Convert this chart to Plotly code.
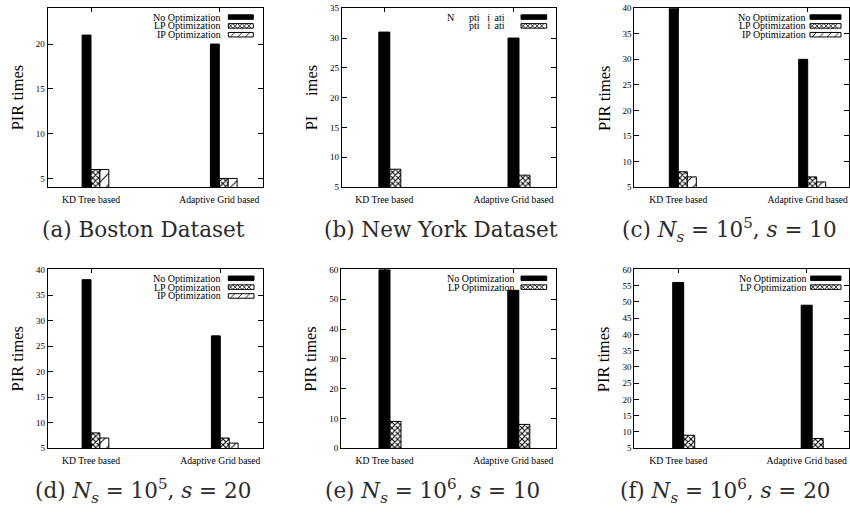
import plotly.graph_objects as go

W, H = 850, 515

# ---------------- data ----------------
categories = ["KD Tree based", "Adaptive Grid based"]
series_names = ["No Optimization", "LP Optimization", "IP Optimization"]

a_no = [21, 20]
a_lp = [6, 5]
a_ip = [6, 5]

b_no = [31, 30]
b_lp = [8, 7]

c_no = [40, 30]
c_lp = [8, 7]
c_ip = [7, 6]

d_no = [38, 27]
d_lp = [8, 7]
d_ip = [7, 6]

e_no = [60, 53]
e_lp = [9, 8]

f_no = [56, 49]
f_lp = [9, 8]

captions = [
    "(a) Boston Dataset",
    "(b) New York Dataset",
    "(c) <i>N</i><sub><i>s</i></sub> = 10<sup>5</sup>, <i>s</i> = 10",
    "(d) <i>N</i><sub><i>s</i></sub> = 10<sup>5</sup>, <i>s</i> = 20",
    "(e) <i>N</i><sub><i>s</i></sub> = 10<sup>6</sup>, <i>s</i> = 10",
    "(f) <i>N</i><sub><i>s</i></sub> = 10<sup>6</sup>, <i>s</i> = 20",
]
y_ranges = [[4, 24], [5, 35], [5, 40], [5, 40], [0, 60], [5, 60]]
y_dticks = [5, 5, 5, 5, 10, 5]
panel_series = [
    [a_no, a_lp, a_ip],
    [b_no, b_lp],
    [c_no, c_lp, c_ip],
    [d_no, d_lp, d_ip],
    [e_no, e_lp],
    [f_no, f_lp],
]

# ---------------- layout (pixels) ----------------
# left, right, top, bottom, tick0 px, tick1 px, bar px
panels = [
    (47.5, 262.5, 3.3, 186.0, 91.0, 219.3, 8.9),
    (341.7, 556.0, 3.3, 185.7, 384.3, 513.5, 11.0),
    (634.4, 849.3, 3.3, 185.7, 678.3, 807.7, 9.0),
    (47.7, 263.3, 269.7, 452.0, 91.0, 220.3, 8.9),
    (341.0, 555.7, 269.7, 452.0, 384.5, 513.3, 11.0),
    (634.3, 849.0, 269.7, 452.0, 678.2, 806.7, 11.0),
]
# caption centre (x, y) px
cap_pos = [(143.3, 229), (440.8, 229), (729, 229), (142.5, 496), (432.5, 496), (725, 496)]
# legend: text right px, swatch x0, x1
leg_pos = [
    (222.7, 228.3, 253.3),
    (516.5, 521.0, 546.7),
    (808.3, 810.0, 841.0),
    (222.7, 228.3, 254.0),
    (516.7, 521.0, 546.7),
    (809.3, 810.7, 841.0),
]

FONT = "Times New Roman, Liberation Serif, Tinos, serif"
CAPFONT = "DejaVu Serif, serif"
HIDE = "<span style='color:rgba(0,0,0,0)'>"


def px(x):
    return x / W


def py(y):
    return 1 - y / H


fig = go.Figure()
shapes = []
annotations = []

patterns = [
    dict(shape="", fillmode="replace"),
    dict(shape="x", fgcolor="black", bgcolor="white", size=4, solidity=0.45, fillmode="replace"),
    dict(shape="/", fgcolor="black", bgcolor="white", size=8, solidity=0.12, fillmode="replace"),
]
colors = ["black", "white", "white"]

for k, (series, (l, r, t, b, t0, t1, bw)) in enumerate(zip(panel_series, panels)):
    idx = "" if k == 0 else str(k + 1)
    sp = t1 - t0
    w = bw / sp
    xr = [-(t0 - l) / sp, 1 + (r - t1) / sp]
    n = len(series)
    if n == 3:
        offsets = [-w, 0, w]
    else:
        offsets = [-w / 2, w / 2]
    for j, vals in enumerate(series):
        fig.add_trace(go.Bar(
            x=categories, y=vals, width=w, offset=offsets[j],
            marker=dict(color=colors[j], line=dict(color="black", width=1),
                        pattern=patterns[j]),
            xaxis="x" + idx, yaxis="y" + idx, showlegend=False,
            name=series_names[j],
        ))
    axcommon = dict(showline=True, linecolor="black", linewidth=1, mirror="ticks",
                    ticks="inside", tickcolor="black", showgrid=False, zeroline=False)
    fig.layout["xaxis" + idx] = dict(
        domain=[px(l), px(r)], anchor="y" + idx, range=xr, type="category",
        tickfont=dict(family=FONT, size=9.7, color="black"), ticklen=4,
        ticklabelstandoff=3, **axcommon)
    fig.layout["yaxis" + idx] = dict(
        domain=[py(b), py(t)], anchor="x" + idx, range=y_ranges[k],
        tickmode="linear", tick0=0, dtick=y_dticks[k],
        tickfont=dict(family=FONT, size=9, color="black"), ticklen=5,
        **axcommon)

    # y-axis title
    ytitle = "PIR times" if k != 1 else "PI" + HIDE + "R t</span>imes"
    annotations.append(dict(
        text=ytitle, x=px(l - 30), y=py((t + b) / 2), xref="paper", yref="paper",
        textangle=-90, showarrow=False, xanchor="center", yanchor="middle",
        font=dict(family=FONT, size=16.5, color="black")))

    # caption
    cx, cy = cap_pos[k]
    annotations.append(dict(
        text=captions[k], x=px(cx), y=py(cy), xref="paper", yref="paper",
        showarrow=False, xanchor="center", yanchor="middle",
        font=dict(family=CAPFONT, size=21.5, color="#2b2b2b")))

    # legend (gnuplot style: text, then swatch)
    tr, sx0, sx1 = leg_pos[k]
    for j in range(n):
        cyl = t + 9 + 9 * j
        name = series_names[j]
        if k == 1:
            if j == 0:
                name = "N" + HIDE + "o O</span>pti" + HIDE + "m</span>i" + HIDE + "z</span>ati" + HIDE + "on</span>"
            else:
                name = HIDE + "LP O</span>pti" + HIDE + "m</span>i" + HIDE + "z</span>ati" + HIDE + "on</span>"
        annotations.append(dict(
            text=name, x=px(tr), y=py(cyl), xref="paper", yref="paper",
            showarrow=False, xanchor="right", yanchor="middle",
            font=dict(family=FONT, size=10, color="black")))
        y0, y1 = cyl - 2.3, cyl + 2.3
        if j == 0:
            shapes.append(dict(type="rect", xref="paper", yref="paper",
                               x0=px(sx0), x1=px(sx1), y0=py(y1), y1=py(y0),
                               fillcolor="black", line=dict(color="black", width=1)))
        else:
            shapes.append(dict(type="rect", xref="paper", yref="paper",
                               x0=px(sx0), x1=px(sx1), y0=py(y1), y1=py(y0),
                               fillcolor="white", line=dict(color="black", width=1)))
            path = ""
            if j == 1:
                h = y1 - y0
                xs = sx0
                up = True
                pts1, pts2 = [], []
                while xs <= sx1 + 0.01:
                    pts1.append((xs, y0 if up else y1))
                    pts2.append((xs, y1 if up else y0))
                    up = not up
                    xs += h
                for pts in (pts1, pts2):
                    path += "M" + " L".join(f"{px(a):.5f},{py(c):.5f}" for a, c in pts) + " "
            else:
                step = 7.5
                xs = sx0 + 2
                while xs + 4 <= sx1:
                    path += f"M{px(xs):.5f},{py(y1):.5f} L{px(xs + 4.5):.5f},{py(y0):.5f} "
                    xs += step
            shapes.append(dict(type="path", xref="paper", yref="paper", path=path,
                               line=dict(color="black", width=0.8)))

fig.update_layout(
    width=W, height=H, margin=dict(l=0, r=0, t=0, b=0),
    paper_bgcolor="white", plot_bgcolor="white",
    barmode="overlay", shapes=shapes, annotations=annotations, showlegend=False,
)

fig.write_html(
    "out.html",
    config={"displayModeBar": False},
    post_script="document.body.style.margin='0';document.body.style.overflow='hidden';",
)
